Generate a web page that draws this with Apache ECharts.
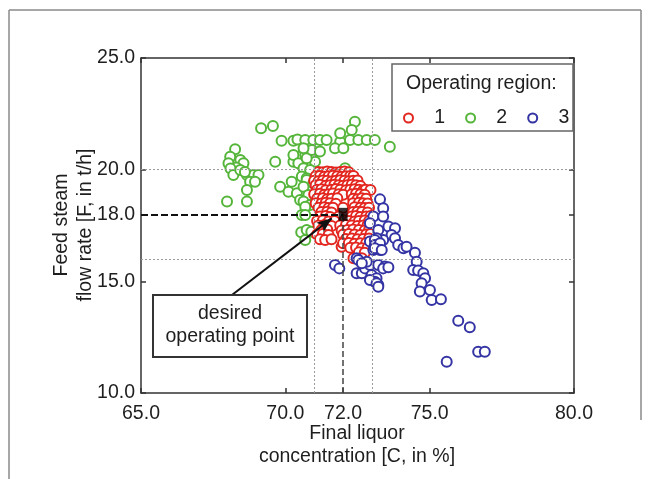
<!DOCTYPE html>
<html>
<head>
<meta charset="utf-8">
<script src="https://cdn.jsdelivr.net/npm/echarts@6/dist/echarts.min.js"></script>
<style>
html,body{margin:0;padding:0;background:#fff;}
#chart{width:650px;height:479px;}
</style>
</head>
<body>
<div id="chart"></div>
<script>
// ---- data ----
var xTicks = [65, 70, 72, 75, 80];
var yTicks = [10, 15, 18, 20, 25];
var gridC = [71, 73];
var gridF = [16, 20];
var desiredPoint = [72, 18];
var arrowFrom = [68.15, 14.39];
var arrowTo = [71.61, 17.82];

var region2 = [
  [69.16,21.85],[69.57,21.96],
  [69.87,21.3],[70.28,21.3],[70.42,21.35],[70.69,21.33],[70.97,21.33],[71.2,21.33],[71.43,21.33],
  [71.9,21.25],[72.24,21.33],[72.53,21.33],[72.82,21.33],[73.1,21.33],[73.62,21.03],
  [72.41,22.15],[72.3,21.78],[71.9,21.63],[71.72,20.96],[72.01,20.96],[72.07,20.06],
  [68.26,20.91],[68.09,20.58],[68.44,20.43],[68.03,20.29],[68.55,20.29],[68.3,20.1],[68.1,20.05],
  [68.2,19.76],[68.44,19.99],[68.67,19.76],[68.9,19.76],[69.07,19.76],[68.6,19.9],
  [68.78,19.46],[68.95,19.46],[68.67,19.09],[67.98,18.57],[68.67,18.57],
  [69.65,20.35],[70.28,20.35],[70.63,20.35],[70.45,20.58],[70.28,20.66],[70.69,20.66],[70.86,20.58],
  [70.45,20.29],[70.8,20.29],[71.03,20.36],[70.74,20.51],[70.92,20.88],[71.2,20.81],[70.63,20.96],
  [70.63,20.06],[70.86,19.99],[70.57,19.69],[70.74,19.62],[70.92,19.48],[70.74,19.54],[70.22,19.46],
  [69.82,19.24],[70.11,19.01],[70.4,18.94],[70.63,19.24],[70.97,19.39],[70.8,18.87],
  [70.51,18.64],[70.63,18.57],[70.86,18.42],[70.69,18.34],[70.57,17.97],[70.69,17.97],
  [70.55,17.2],[70.74,17.3],[70.9,17.22],[70.69,16.85]
];

var region1 = [
  [71.15,19.9],[71.3,19.88],[71.45,19.92],[71.6,19.9],[71.75,19.87],[71.9,19.9],[72.05,19.92],[72.2,19.88],
  [71.05,19.7],[71.2,19.72],[71.35,19.68],[71.5,19.7],[71.65,19.73],[71.8,19.7],[71.95,19.68],[72.1,19.7],[72.25,19.72],[72.36,19.72],
  [71.0,19.5],[71.15,19.48],[71.3,19.52],[71.45,19.5],[71.6,19.47],[71.75,19.5],[71.9,19.53],[72.05,19.5],[72.2,19.48],[72.35,19.5],[72.5,19.52],
  [71.05,19.3],[71.2,19.32],[71.4,19.28],[71.55,19.3],[71.7,19.33],[71.85,19.3],[72.0,19.28],[72.15,19.3],[72.3,19.32],[72.45,19.3],[72.6,19.27],
  [71.1,19.1],[71.25,19.12],[71.4,19.08],[71.6,19.1],[71.75,19.13],[71.9,19.1],[72.1,19.08],[72.25,19.1],[72.4,19.12],[72.55,19.1],[72.7,19.08],[72.78,19.1],[72.95,19.09],
  [71.0,18.9],[71.2,18.92],[71.35,18.88],[71.5,18.9],[71.65,18.93],[71.85,18.9],[72.0,18.88],[72.3,18.9],[72.45,18.92],[72.6,18.9],[72.75,18.88],
  [71.1,18.7],[71.3,18.72],[71.45,18.68],[71.6,18.7],[71.8,18.72],[72.35,18.7],[72.5,18.68],[72.65,18.72],[72.8,18.7],
  [71.05,18.5],[71.25,18.48],[71.4,18.52],[71.55,18.5],[71.75,18.47],[72.35,18.5],[72.55,18.52],[72.7,18.5],[72.85,18.48],
  [71.15,18.3],[71.35,18.32],[71.5,18.28],[71.65,18.3],[72.0,18.3],[72.4,18.32],[72.6,18.3],[72.75,18.28],[72.9,18.3],
  [71.25,18.1],[71.45,18.12],[71.6,18.08],[72.35,18.1],[72.5,18.12],[72.65,18.1],[72.85,18.08],
  [71.2,17.9],[71.4,17.92],[71.55,17.88],[71.85,17.9],[72.3,17.9],[72.45,17.92],[72.6,17.88],[72.8,17.9],[72.95,17.92],
  [71.1,17.7],[71.3,17.72],[71.5,17.68],[71.7,17.7],[72.05,17.72],[72.2,17.7],[72.4,17.68],[72.55,17.7],[72.75,17.72],[72.9,17.7],
  [71.15,17.5],[71.35,17.52],[71.6,17.48],[71.9,17.5],[72.1,17.52],[72.3,17.5],[72.5,17.48],[72.7,17.5],[72.85,17.52],
  [71.25,17.3],[71.45,17.32],[71.95,17.28],[72.15,17.3],[72.35,17.32],[72.55,17.3],[72.75,17.28],[72.9,17.3],
  [71.1,17.1],[71.3,17.12],[71.5,17.08],[72.0,17.1],[72.2,17.12],[72.4,17.1],[72.6,17.08],[72.8,17.1],[72.95,17.12],
  [71.2,16.88],[71.38,16.85],[71.6,16.88],[72.1,16.9],[72.3,16.92],[72.5,16.88],[72.7,16.9],[72.9,16.92],
  [71.95,16.55],[72.0,16.7],[72.2,16.72],[72.4,16.68],[72.6,16.7],[72.8,16.72],
  [72.25,16.5],[72.45,16.52],[72.65,16.48],[72.85,16.5],
  [72.36,16.03],[72.55,16.3],[72.75,16.28],[72.65,16.03]
];

var region3 = [
  [73.28,18.67],[73.39,18.27],[73.05,17.9],[73.39,17.9],[72.93,17.6],[73.57,17.45],[73.8,17.38],
  [73.22,17.3],[73.68,17.08],[73.8,16.93],[73.39,16.85],[73.16,16.93],[72.93,16.78],[73.1,16.85],
  [73.91,16.63],[74.09,16.48],[74.2,16.55],[73.1,16.63],[73.28,16.7],[73.28,16.4],[73.05,16.4],
  [73.1,16.48],[73.34,16.4],[74.49,16.28],[74.55,15.88],[74.43,15.51],[74.6,15.48],[74.78,15.36],
  [74.84,15.14],[74.72,14.91],[75.01,14.61],[74.66,14.54],[75.07,14.16],[75.39,14.2],
  [75.99,13.24],[76.39,12.94],[76.68,11.85],[76.91,11.85],[75.59,11.4],
  [71.72,15.73],[71.87,15.58],[72.47,16.03],[72.53,15.96],[72.47,15.36],[72.65,15.36],
  [72.76,15.58],[72.93,15.73],[73.22,15.73],[73.45,15.66],[73.39,15.58],[73.57,15.63],
  [72.99,15.28],[73.16,15.14],[73.22,14.84],[73.1,14.98],[72.93,15.06],[73.16,14.91],[73.22,14.76],
  [72.82,15.88],[72.65,15.81]
];

// ---- chart ----
var FONT = '"Liberation Sans", Arial, sans-serif';
var TXT = '#1e1e1e';
var red = '#e3261f', green = '#55b53a', blue = '#3434a4';

var chart = echarts.init(document.getElementById('chart'), null, {renderer: 'canvas'});

function circleSeries(name, data, color) {
  return {
    name: name, type: 'scatter', data: data, z: 3,
    symbol: 'emptyCircle', symbolSize: 10,
    itemStyle: {color: color, borderColor: color, borderWidth: 1.6, opacity: 1},
    emphasis: {disabled: true},
    animation: false
  };
}

var option = {
  animation: false,
  backgroundColor: '#fff',
  textStyle: {fontFamily: FONT},
  grid: {left: 141, top: 58, width: 433, height: 335, containLabel: false},
  xAxis: [{
    type: 'value', min: 65, max: 80, position: 'bottom',
    axisLine: {show: true, onZero: false, lineStyle: {color: '#333', width: 1.5}},
    axisTick: {show: true, inside: true, length: 5, customValues: xTicks, lineStyle: {color: '#333', width: 1.5}},
    axisLabel: {show: true, customValues: xTicks, margin: 11, fontSize: 19.5, color: TXT, fontFamily: FONT,
      formatter: function (v) { return v.toFixed(1); }},
    splitLine: {show: false}
  }, {
    type: 'value', min: 65, max: 80, position: 'top',
    axisLine: {show: true, onZero: false, lineStyle: {color: '#333', width: 1.5}},
    axisTick: {show: true, inside: true, length: 5, customValues: xTicks, lineStyle: {color: '#333', width: 1.5}},
    axisLabel: {show: false},
    splitLine: {show: false}
  }],
  yAxis: [{
    type: 'value', min: 10, max: 25, position: 'left',
    axisLine: {show: true, onZero: false, lineStyle: {color: '#333', width: 1.5}},
    axisTick: {show: true, inside: true, length: 5, customValues: yTicks, lineStyle: {color: '#333', width: 1.5}},
    axisLabel: {show: true, customValues: yTicks, margin: 6, fontSize: 19.5, color: TXT, fontFamily: FONT,
      formatter: function (v) { return v.toFixed(1); }},
    splitLine: {show: false}
  }, {
    type: 'value', min: 10, max: 25, position: 'right',
    axisLine: {show: true, onZero: false, lineStyle: {color: '#333', width: 1.5}},
    axisTick: {show: true, inside: true, length: 5, customValues: yTicks, lineStyle: {color: '#333', width: 1.5}},
    axisLabel: {show: false},
    splitLine: {show: false}
  }],
  legend: {
    data: ['1', '2', '3'],
    left: 398, top: 103,
    orient: 'horizontal',
    itemWidth: 9, itemHeight: 9, itemGap: 20,
    icon: 'emptyCircle',
    itemStyle: {borderWidth: 2},
    formatter: function (n) { return '   ' + n; },
    textStyle: {fontSize: 19.5, color: TXT, fontFamily: FONT},
    selectedMode: false,
    z: 20
  },
  graphic: [
    // outer frame
    {type: 'line', z: 0, shape: {x1: 9, y1: 10, x2: 641, y2: 10}, style: {stroke: '#8a8a8a', lineWidth: 1.5}},
    {type: 'line', z: 0, shape: {x1: 9, y1: 10, x2: 9, y2: 479}, style: {stroke: '#8a8a8a', lineWidth: 1.5}},
    {type: 'line', z: 0, shape: {x1: 641, y1: 10, x2: 641, y2: 420}, style: {stroke: '#8a8a8a', lineWidth: 1.5}},
    // legend box
    {type: 'rect', z: 15, shape: {x: 392, y: 64, width: 181, height: 67},
      style: {fill: '#fff', stroke: '#666', lineWidth: 1.5}},
    {type: 'text', z: 16, x: 406, y: 84,
      style: {text: 'Operating region:', fontSize: 19.5, fontFamily: FONT, fill: TXT, verticalAlign: 'middle', align: 'left'}},
    // annotation box
    {type: 'rect', z: 15, shape: {x: 153, y: 295, width: 154, height: 62},
      style: {fill: '#fff', stroke: '#333', lineWidth: 2}},
    {type: 'text', z: 16, x: 230, y: 325,
      style: {text: 'desired\noperating point', fontSize: 19.5, lineHeight: 23, fontFamily: FONT, fill: TXT, align: 'center', verticalAlign: 'middle'}},
    // axis names
    {type: 'text', z: 16, x: 357, y: 445,
      style: {text: 'Final liquor\nconcentration [C, in %]', fontSize: 19.5, lineHeight: 23, fontFamily: FONT, fill: TXT, align: 'center', verticalAlign: 'middle'}},
    {type: 'text', z: 16, x: 74, y: 225, rotation: Math.PI / 2,
      style: {text: 'Feed steam\nflow rate [F, in t/h]', fontSize: 19.5, lineHeight: 24, fontFamily: FONT, fill: TXT, align: 'center', verticalAlign: 'middle'}}
  ],
  series: [
    {
      type: 'line', data: [], z: 1, silent: true, animation: false,
      markLine: {
        silent: true, symbol: 'none', animation: false,
        label: {show: false},
        lineStyle: {color: '#9a9a9a', type: [2, 2], width: 1},
        data: gridC.map(function (c) { return {xAxis: c}; })
          .concat(gridF.map(function (f) { return {yAxis: f}; }))
      }
    },
    circleSeries('2', region2, green),
    circleSeries('1', region1, red),
    circleSeries('3', region3, blue),
    {
      type: 'scatter', data: [desiredPoint], z: 5, symbol: 'rect', symbolSize: [9, 13],
      itemStyle: {color: '#000'}, silent: true, animation: false,
      markLine: {
        silent: true, animation: false, label: {show: false}, symbol: 'none',
        data: [
          [{coord: [65, desiredPoint[1]], lineStyle: {color: '#111', width: 2, type: [7, 3]}},
           {coord: desiredPoint}],
          [{coord: [desiredPoint[0], 10], lineStyle: {color: '#444', width: 1.5, type: [6, 3]}},
           {coord: desiredPoint}],
          [{coord: arrowFrom, symbol: 'none', lineStyle: {color: '#111', width: 2, type: 'solid'}},
           {coord: arrowTo, symbol: 'arrow', symbolSize: [9, 15]}]
        ]
      }
    }
  ]
};
chart.setOption(option);
</script>
</body>
</html>
